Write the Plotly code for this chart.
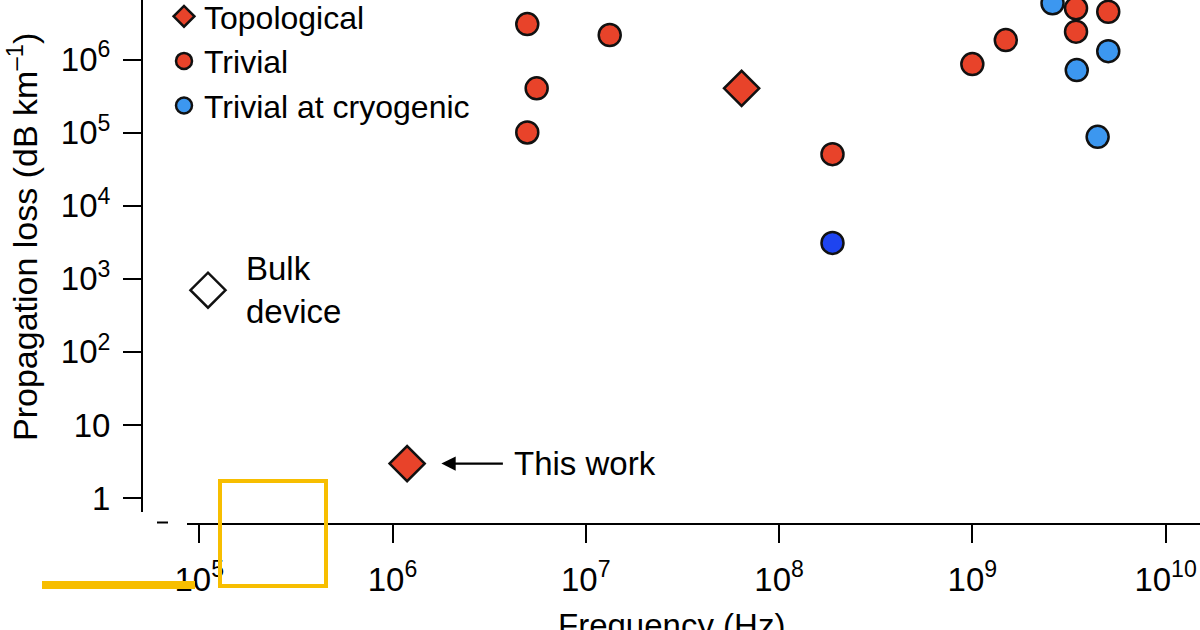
import plotly.graph_objects as go

# ---- data ----
topo_freq = [6.4e7, 1.19e6]
topo_loss = [4.06e5, 2.96]

trivial_freq = [4.98e6, 1.33e7, 5.57e6, 4.98e6, 1.89e8, 1.0e9, 1.49e9, 3.44e9, 3.44e9, 5.05e9]
trivial_loss = [3.08e6, 2.18e6, 4.06e5, 1.01e5, 5.1e4, 8.73e5, 1.86e6, 5.06e6, 2.42e6, 4.54e6]

cryo_freq = [2.6e9, 3.47e9, 5.05e9, 4.45e9]
cryo_loss = [5.93e6, 7.22e5, 1.31e6, 8.8e4]

other_freq = [1.89e8]
other_loss = [3.11e3]

bulk_freq = [1.11e5]
bulk_loss = [700]

x_tickvals = [1e5, 1e6, 1e7, 1e8, 1e9, 1e10]
x_ticktext = ["10<sup>5</sup>", "10<sup>6</sup>", "10<sup>7</sup>", "10<sup>8</sup>", "10<sup>9</sup>", "10<sup>10</sup>"]
y_tickvals = [1, 10, 1e2, 1e3, 1e4, 1e5, 1e6]
y_ticktext = ["1", "10", "10<sup>2</sup>", "10<sup>3</sup>", "10<sup>4</sup>", "10<sup>5</sup>", "10<sup>6</sup>"]

# ---- styles ----
FONT = "Liberation Sans, Arial, Helvetica, sans-serif"
FS = 33
RED = "#E8432A"
LBLUE = "#3C97F0"
DBLUE = "#1E44F0"
EDGE = "#111111"
YEL = "#F7BE00"

W, H = 1200, 630
L, R, T, B = 143, 0, 0, 107
PW, PH = W - L - R, H - T - B


def px(xp):
    return (xp - L) / PW


def py(yp):
    return (H - B - yp) / PH


fig = go.Figure()
fig.add_trace(go.Scatter(x=topo_freq, y=topo_loss, mode="markers", name="Topological",
                         marker=dict(symbol="diamond", size=27, color=RED, line=dict(color=EDGE, width=2.5))))
fig.add_trace(go.Scatter(x=trivial_freq, y=trivial_loss, mode="markers", name="Trivial",
                         marker=dict(symbol="circle", size=22, color=RED, line=dict(color=EDGE, width=2.5))))
fig.add_trace(go.Scatter(x=cryo_freq, y=cryo_loss, mode="markers", name="Trivial at cryogenic",
                         marker=dict(symbol="circle", size=22, color=LBLUE, line=dict(color=EDGE, width=2.5))))
fig.add_trace(go.Scatter(x=other_freq, y=other_loss, mode="markers", showlegend=False,
                         marker=dict(symbol="circle", size=22, color=DBLUE, line=dict(color=EDGE, width=2.5))))
fig.add_trace(go.Scatter(x=bulk_freq, y=bulk_loss, mode="markers", showlegend=False,
                         marker=dict(symbol="diamond", size=27, color="white", line=dict(color=EDGE, width=2.5))))

axis_common = dict(type="log", showgrid=False, zeroline=False, showline=True, linecolor="black",
                   linewidth=2, ticks="outside", ticklen=18, tickwidth=2, tickcolor="black",
                   tickfont=dict(family=FONT, size=FS, color="black"), automargin=False)

fig.update_xaxes(**axis_common, range=[4.709, 10.178], tickvals=x_tickvals, ticktext=x_ticktext,
                 ticklabelstandoff=8)
fig.update_yaxes(**axis_common, range=[-0.342, 6.818], tickvals=y_tickvals, ticktext=y_ticktext,
                 ticklabelstandoff=6)

annotations = [
    dict(x=5.045, y=2.845, xref="x", yref="y", text="Bulk<br>device", showarrow=False,
         xanchor="left", yanchor="middle", align="left", xshift=36,
         font=dict(family=FONT, size=FS, color="black")),
    dict(x=6.077, y=0.471, xref="x", yref="y", text="This work", showarrow=True,
         ax=178, ay=0, arrowhead=2, arrowsize=1.3, arrowwidth=2.2, arrowcolor="black",
         standoff=34, borderpad=11, font=dict(family=FONT, size=FS, color="black")),
    dict(x=0.5, y=py(605), xref="paper", yref="paper", text="Frequency (Hz)", showarrow=False,
         xanchor="center", yanchor="top", font=dict(family=FONT, size=FS, color="black")),
    dict(x=px(23), y=py(237), xref="paper", yref="paper",
         text="Propagation loss (dB km<sup>–1</sup>)", textangle=-90, showarrow=False,
         xanchor="center", yanchor="middle", font=dict(family=FONT, size=34, color="black")),
]

shapes = [
    # white patch over axis corner (as in the reference)
    dict(type="rect", xref="paper", yref="paper", x0=px(138), x1=px(187), y0=py(531), y1=py(512),
         fillcolor="white", line=dict(width=0), layer="above"),
    dict(type="line", xref="paper", yref="paper", x0=px(157), x1=px(168), y0=py(522.5), y1=py(522.5),
         line=dict(color="black", width=2), layer="above"),
    # yellow overlay marks
    dict(type="rect", xref="paper", yref="paper", x0=px(220), x1=px(326), y0=py(586), y1=py(481),
         line=dict(color=YEL, width=4), layer="above"),
    dict(type="line", xref="paper", yref="paper", x0=px(42), x1=px(195), y0=py(585), y1=py(585),
         line=dict(color=YEL, width=8), layer="above"),
]

fig.update_layout(
    width=W, height=H,
    margin=dict(l=L, r=R, t=T, b=B, autoexpand=False),
    paper_bgcolor="white", plot_bgcolor="white",
    font=dict(family=FONT, size=FS, color="black"),
    showlegend=True,
    legend=dict(x=px(164), y=py(-11), xanchor="left", yanchor="top", bgcolor="rgba(0,0,0,0)",
                font=dict(family=FONT, size=32, color="black"), tracegroupgap=0),
    annotations=annotations,
    shapes=shapes,
)

fig.write_html("out.html", config={"displayModeBar": False},
               post_script="document.body.style.margin='0';document.body.style.padding='0';")
